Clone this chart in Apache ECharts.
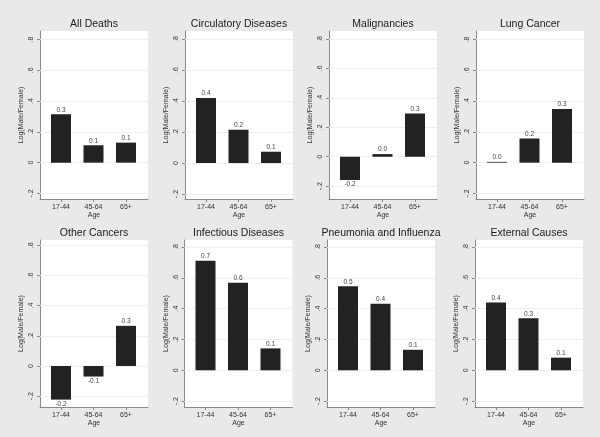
<!DOCTYPE html>
<html>
<head>
<meta charset="utf-8">
<script src="https://cdn.jsdelivr.net/npm/echarts@6/dist/echarts.min.js"></script>
<style>html,body{margin:0;padding:0;background:#e9e9e9;}#c{width:600px;height:437px;}</style>
</head>
<body>
<div id="c"></div>
<script>
// ---- data ----
const categories = ['17-44', '45-64', '65+'];
const panelTitles = ['All Deaths', 'Circulatory Diseases', 'Malignancies', 'Lung Cancer',
  'Other Cancers', 'Infectious Diseases', 'Pneumonia and Influenza', 'External Causes'];
const allDeaths    = [0.314, 0.113, 0.130];
const circulatory  = [0.419, 0.215, 0.073];
const malignancies = [-0.158, 0.018, 0.294];
const lungCancer   = [0.005, 0.157, 0.348];
const otherCancers = [-0.223, -0.070, 0.266];
const infectious   = [0.710, 0.568, 0.142];
const pneumonia    = [0.545, 0.431, 0.133];
const external     = [0.440, 0.337, 0.082];
const yTicks = [-0.2, 0, 0.2, 0.4, 0.6, 0.8];
const yTickLabels = ['-.2', '0', '.2', '.4', '.6', '.8'];
const yAxisTitle = 'Log(Male/Female)';
const xAxisTitle = 'Age';

const panelValues = [allDeaths, circulatory, malignancies, lungCancer,
  otherCancers, infectious, pneumonia, external];

// ---- layout (per-panel axis ranges and plot boxes) ----
const yRanges = [[-0.236, 0.855], [-0.232, 0.852], [-0.287, 0.854], [-0.236, 0.855],
  [-0.272, 0.835], [-0.238, 0.845], [-0.238, 0.845], [-0.238, 0.845]];
const gridLefts = [40, 185, 329, 476, 40, 184.5, 327, 475];
const rowTops = [31, 240];
const rowHeights = [168, 167];
const plotW = 108;
const xMin = 0.354, xMax = 3.677;

const FONT = 'Liberation Sans, Arial, sans-serif';
const grids = [], xAxes = [], yAxes = [], series = [], graphics = [];

panelValues.forEach((vals, i) => {
  const row = i < 4 ? 0 : 1;
  const left = gridLefts[i];
  const top = rowTops[row];
  const h = rowHeights[row];
  grids.push({
    left: left, top: top, width: plotW, height: h,
    show: true, backgroundColor: '#ffffff', borderWidth: 0
  });
  xAxes.push({
    type: 'value', gridIndex: i, min: xMin, max: xMax,
    name: xAxisTitle, nameLocation: 'middle', nameGap: 13,
    nameTextStyle: { fontSize: 7, color: '#333', fontFamily: FONT },
    axisLine: { show: true, onZero: false, lineStyle: { color: '#8a8a8a', width: 1 } },
    axisTick: { show: true, length: 3, customValues: [1, 2, 3], lineStyle: { color: '#8a8a8a' } },
    axisLabel: { customValues: [1, 2, 3], formatter: v => categories[Math.round(v) - 1],
      fontSize: 7, color: '#333', fontFamily: FONT, margin: 5 },
    splitLine: { show: false }
  });
  yAxes.push({
    type: 'value', gridIndex: i, min: yRanges[i][0], max: yRanges[i][1],
    name: yAxisTitle, nameLocation: 'middle', nameGap: 15, nameRotate: 90,
    nameTextStyle: { fontSize: 7, color: '#333', fontFamily: FONT },
    axisLine: { show: true, lineStyle: { color: '#8a8a8a', width: 1 } },
    axisTick: { show: true, length: 3, customValues: yTicks, lineStyle: { color: '#8a8a8a' } },
    axisLabel: { customValues: yTicks, rotate: 90, margin: 5,
      formatter: v => { const k = yTicks.findIndex(t => Math.abs(t - v) < 1e-6); return k >= 0 ? yTickLabels[k] : ''; },
      fontSize: 7, color: '#333', fontFamily: FONT },
    splitLine: { show: false }
  });
  series.push({
    type: 'bar', xAxisIndex: i, yAxisIndex: i, barWidth: 20, z: 2,
    itemStyle: { color: '#222222' },
    data: vals.map((v, k) => ({
      value: [k + 1, v],
      label: { position: v < 0 ? 'bottom' : 'top' }
    })),
    label: { show: true, distance: 1, fontSize: 6.5, color: '#444', fontFamily: FONT,
      formatter: p => p.value[1].toFixed(1) },
    markLine: {
      silent: true, symbol: 'none', z: 1, label: { show: false },
      lineStyle: { color: '#efefef', width: 1, type: 'solid' },
      data: yTicks.map(t => ({ yAxis: t }))
    }
  });
  graphics.push({
    type: 'text', x: left + plotW / 2, y: top - 6.5,
    style: { text: panelTitles[i], textAlign: 'center', textVerticalAlign: 'middle',
      font: '10.5px ' + FONT, fill: '#1a1a1a' }
  });
});

const chart = echarts.init(document.getElementById('c'), null, { renderer: 'canvas' });
chart.setOption({
  backgroundColor: '#e9e9e9',
  animation: false,
  grid: grids, xAxis: xAxes, yAxis: yAxes, series: series, graphic: graphics
});
</script>
</body>
</html>
